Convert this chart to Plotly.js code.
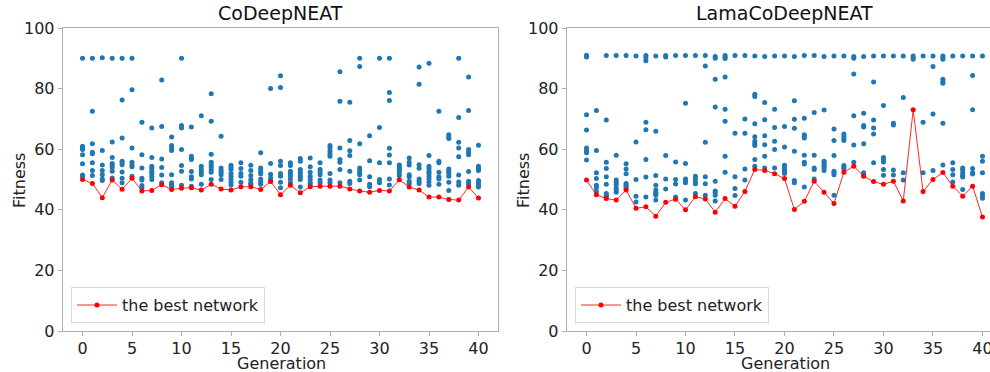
<!DOCTYPE html>
<html>
<head>
<meta charset="utf-8">
<script src="https://cdn.plot.ly/plotly-3.0.1.min.js"></script>
<style>html,body{margin:0;padding:0;background:#fff}#chart{width:990px;height:372px}</style>
</head>
<body>
<div id="chart"></div>
<script>
// ---- data ----
const generations = Array.from({length: 41}, (_, i) => i);

const popLeft = [
  [90, 61, 60.4, 59.9, 58.2, 55.2, 51.5, 51],
  [90, 72.5, 61.8, 59, 58.5, 55.5, 53, 51.3],
  [90.2, 59.6, 54.8, 53, 51.6, 50.2, 49.7],
  [90, 62.4, 57.3, 55.3, 54.6, 54, 52.7, 50.5],
  [90, 76.2, 63.7, 56, 55.5, 54.9, 52.5, 50.4, 48.9],
  [90, 79.6, 60.4, 55.7, 54.9, 54.2, 51.1],
  [68.9, 58.2, 53.8, 50.4, 49.8, 48, 47.3],
  [67, 57.3, 54.4, 53.6, 52.7, 52, 51.1, 50],
  [82.8, 67.5, 56.8, 54, 51.5, 48.9],
  [64, 61.2, 60.4, 59.6, 51.6, 48.9, 48.4, 47.8],
  [90, 67.8, 67, 59.9, 54.6, 52.7, 48.1],
  [67.3, 57.7, 57.1, 56.6, 52.6, 50.9, 50.2, 47.8],
  [71, 54.4, 53.3, 52.4, 51.6, 48.4],
  [78.3, 69.2, 58.3, 55.7, 54.9, 54.2, 53.3, 52.4, 50],
  [64.3, 53.8, 53, 52.4, 51.6, 50],
  [54.7, 54, 53.3, 52, 51.1, 50, 49.1, 48.2],
  [55.5, 53.6, 52, 51.1, 49.1],
  [54.7, 53, 51.3, 50, 48.9, 48.4],
  [58.8, 53.8, 53.3, 52.4, 51.9, 50.2, 49.2, 48.4],
  [80, 55.3, 51.7, 50.5, 49.4],
  [84.2, 80.4, 56, 54.6, 52, 51.1, 49.1, 47.3],
  [55.5, 54.6, 52.7, 52, 51.1, 50.2, 48.9],
  [56.9, 56, 53.3, 52.4, 51.6, 50.9, 50, 47.5],
  [57.1, 54.2, 52.4, 51.1, 50, 48.9, 48.4],
  [55.5, 53.3, 52.5, 51.6, 49.8, 48.9],
  [61.2, 60.4, 59.3, 58.4, 57.7, 52, 49.8, 48.9],
  [85.6, 75.8, 60.4, 56.6, 55.7, 53.3, 48.9],
  [75.5, 62.9, 59.5, 57.9, 52.7, 49.4, 48.7],
  [90, 87.3, 61.8, 53.8, 53, 52.2, 51.6, 49.8],
  [64.4, 56.2, 50.9, 48.4, 47.6],
  [90, 67.2, 55.5, 50, 48.9],
  [90, 78.7, 76.1, 60.3, 58.1, 55.5, 50.2, 48.2],
  [54.8, 54.3, 53.6, 53, 52.2, 51.3],
  [57.1, 55.7, 54.8, 51.6, 50.9, 49.4, 48.7],
  [87.1, 81.4, 54.9, 53.7, 50.2, 49.4, 48.7],
  [88.4, 57.9, 54.4, 53.6, 52.7, 52, 51.1, 50.2, 49.2, 48.1],
  [72.5, 56, 55.5, 52.4, 50.9, 50.2, 48.4],
  [64.8, 64, 63.5, 53.5, 52.7, 52, 51.1, 49.1, 46.4],
  [90, 70.5, 62.3, 60.4, 57.5, 51.5, 49.2, 48.1],
  [83.8, 72.8, 59.9, 59, 58.2, 52.6, 49.4, 48.9, 48.4],
  [61.3, 54.4, 53.6, 53, 49.7, 48.9, 48.1, 47.5]
];
const bestLeft = [50, 48.7, 44, 49.8, 46.8, 50.4, 46.2, 46.4, 48.3, 46.7, 47.1, 47.3, 46.5, 48.4, 46.9, 46.5, 47.6, 47.6, 46.7, 49.3, 45, 48.1, 45.6, 47.6, 47.8, 47.8, 47.8, 46.9, 46.2, 45.8, 46.4, 46.2, 49.9, 47.5, 46.5, 44.2, 44.2, 43.4, 43.2, 47.5, 43.9];

const popRight = [
  [91, 90.4, 71.4, 66.3, 60.4, 59.5, 58.8, 56.4],
  [72.8, 59.6, 52.2, 50.3, 48.1, 47.3, 46],
  [90.9, 69.6, 55.7, 53.6, 50.9, 48.4, 45.4, 44.9, 44.5],
  [90.9, 58, 49.8, 49.2, 48.4, 47.3, 46.5, 45.8],
  [90.9, 55.2, 53.5, 51.9, 48.7, 48.1, 47.6, 47],
  [90.8, 62.4, 50, 44.5, 42.6],
  [90.9, 90.2, 89.2, 68.9, 66.4, 56.6, 50.8, 44.2],
  [90.8, 65.9, 51.3, 48.1, 46.5, 45.8, 45.4, 44.8, 43.2],
  [90.9, 90.4, 57.9, 50.2, 46.9],
  [90.9, 55.8, 50, 48.5, 44.2],
  [90.9, 75.2, 55.3, 50.2, 49.4, 48.9, 43.2],
  [90.9, 51.1, 50.2, 49.1, 48.6, 45.4],
  [90.9, 87.5, 62.3, 50.9, 48.6, 44.8],
  [90.6, 90, 83.1, 73.9, 49.4, 46.2, 45.6, 44.8, 42.9],
  [90.9, 90.4, 89.9, 83.8, 73.2, 69.2, 57.7, 52.4],
  [90.9, 65.3, 50.9, 47, 44.7],
  [90.9, 70, 65.3, 53.5, 49.8],
  [90.8, 78.1, 77.4, 68.4, 64.1, 62.6, 61.8, 61.2, 56.6, 54.4],
  [90.6, 75.4, 69.7, 64.4, 61.5, 57.7, 53.8],
  [90.8, 73.2, 67.2, 62.6, 59.9, 53.8],
  [90.8, 67.5, 60.7, 54.7, 54.2, 53.3, 52.7, 52],
  [90.6, 76, 69.9, 66.9, 59.3, 49.7, 48.9],
  [90.9, 70.2, 64.8, 64.3, 63.7, 58, 55.7, 55.1, 47.5],
  [90.9, 72.1, 58, 53.8, 53.3, 50.2],
  [90.6, 72.9, 56, 55.5, 54.9, 54.4, 53.8, 53],
  [90.8, 66.7, 62.9, 57.9, 52.7, 52.2, 51.6, 44.8],
  [90.8, 65, 64.3, 63.5, 62.9, 54.6, 54, 53.5],
  [90.6, 90, 84.8, 71, 61.4, 55.7],
  [90.6, 71.9, 67.8, 67.3, 61.8, 52.2, 51.6],
  [90.8, 82.2, 69.6, 67, 65, 55.5],
  [90.8, 74.4, 57.3, 56.6, 55.8, 53.3, 51.4],
  [90.8, 68.6, 68, 53.1, 51.5],
  [90.8, 77.1, 52.2, 49.8],
  [90.8, 90.2, 89.7],
  [90.8, 68.9, 52.2],
  [90.8, 87.3, 71.6, 53],
  [90.8, 90.2, 89.7, 83.1, 82.3, 81.8, 68.6, 54.8],
  [90.8, 55.5, 53.3, 51.6, 49.2],
  [90.8, 53.8, 53.3, 52.2, 51.3, 50.8, 46.7],
  [90.8, 84.3, 73, 53.6, 52.2, 51.8],
  [90.8, 57.7, 56, 52.2, 45.4, 44.5, 43.8]
];
const bestRight = [49.8, 45, 43.7, 43.2, 46.5, 40.5, 41, 37.9, 42.5, 43.5, 40, 44.3, 43.6, 39.2, 43.7, 41.2, 46, 53.3, 53, 51.9, 50.3, 40.1, 42.8, 49.4, 45.8, 42.1, 52.4, 54.4, 51.1, 49.3, 48.4, 49.4, 42.9, 73, 46, 50, 52.3, 47.8, 44.5, 47.8, 37.6];

const subplotTitles = ["CoDeepNEAT", "LamaCoDeepNEAT"];
const xTitle = "Generation";
const yTitle = "Fitness";
const legendLabel = "the best network";
const xTickVals = [0, 5, 10, 15, 20, 25, 30, 35, 40];
const yTickVals = [0, 20, 40, 60, 80, 100];

// ---- build ----
function flatten(pop) {
  const xs = [], ys = [];
  pop.forEach((vals, g) => vals.forEach(v => { xs.push(generations[g]); ys.push(v); }));
  return {xs, ys};
}
const fL = flatten(popLeft), fR = flatten(popRight);
const BLUE = '#1f77b4', RED = 'red';
const FONT = 'DejaVu Sans, sans-serif';
const W = 990, H = 372;

const traces = [
  {x: fL.xs, y: fL.ys, type: 'scatter', mode: 'markers', xaxis: 'x', yaxis: 'y',
   marker: {color: BLUE, size: 5, line: {width: 0}}, showlegend: false, hoverinfo: 'skip'},
  {x: generations, y: bestLeft, type: 'scatter', mode: 'lines+markers', xaxis: 'x', yaxis: 'y',
   name: legendLabel, legend: 'legend',
   line: {color: 'rgba(255,0,0,0.85)', width: 1}, marker: {color: RED, size: 5}},
  {x: fR.xs, y: fR.ys, type: 'scatter', mode: 'markers', xaxis: 'x2', yaxis: 'y2',
   marker: {color: BLUE, size: 5, line: {width: 0}}, showlegend: false, hoverinfo: 'skip'},
  {x: generations, y: bestRight, type: 'scatter', mode: 'lines+markers', xaxis: 'x2', yaxis: 'y2',
   name: legendLabel, legend: 'legend2',
   line: {color: 'rgba(255,0,0,0.85)', width: 1}, marker: {color: RED, size: 5}}
];

const spine = '#b0b0b0';
function xAxis(domain, range, anchor) {
  return {domain, range, anchor, tickvals: xTickVals, ticks: 'outside', ticklen: 4, tickcolor: spine,
    showline: true, linecolor: spine, linewidth: 1, mirror: true, showgrid: false, zeroline: false,
    tickfont: {family: FONT, size: 16, color: '#222'}, ticklabeloverflow: 'allow', ticklabelstandoff: -1,
    automargin: false, fixedrange: true};
}
function yAxis(anchor, mirror) {
  return {domain: [0, 1], range: [0, 100], anchor, tickvals: yTickVals, ticks: 'outside', ticklen: 4, tickcolor: spine,
    showline: true, linecolor: spine, linewidth: 1, mirror, showgrid: false, zeroline: false,
    tickfont: {family: FONT, size: 16, color: '#222'},
    automargin: false, fixedrange: true};
}

const dL = [62.7/W, 498.3/W], dR = [566.7/W, 1];
const titleFont = {family: FONT, size: 16, color: '#222'};
function pxAnn(text, px, py, extra) {
  return Object.assign({text, xref: 'paper', yref: 'paper', x: px / W, y: (331 - py) / (331 - 28),
    xanchor: 'center', yanchor: 'middle', showarrow: false, font: titleFont}, extra || {});
}

const layout = {
  width: W, height: H,
  margin: {l: 0, r: 0, t: 28, b: 41},
  paper_bgcolor: '#fff', plot_bgcolor: '#fff',
  font: {family: FONT, color: '#222'},
  xaxis: xAxis(dL, [-2, 42], 'y'),
  yaxis: yAxis('x', true),
  xaxis2: xAxis(dR, [-2, 40.76], 'y2'),
  yaxis2: yAxis('x2', false),
  legend: {x: 71/W, y: 0.026, xanchor: 'left', yanchor: 'bottom', bgcolor: '#fff', itemwidth: 40,
    bordercolor: '#d9d9d9', borderwidth: 1, font: {family: FONT, size: 16, color: '#222'}},
  legend2: {x: 575/W, y: 0.026, xanchor: 'left', yanchor: 'bottom', bgcolor: '#fff', itemwidth: 40,
    bordercolor: '#d9d9d9', borderwidth: 1, font: {family: FONT, size: 16, color: '#222'}},
  annotations: [
    {text: subplotTitles[0], xref: 'paper', yref: 'paper', x: (dL[0]+dL[1])/2, y: 1, yshift: 2,
     xanchor: 'center', yanchor: 'bottom', showarrow: false, font: {family: FONT, size: 19, color: '#111'}},
    {text: subplotTitles[1], xref: 'paper', yref: 'paper', x: (566.7 + 1001.6) / 2 / W, y: 1, yshift: 2,
     xanchor: 'center', yanchor: 'bottom', showarrow: false, font: {family: FONT, size: 19, color: '#111'}},
    pxAnn(xTitle, 281, 363),
    pxAnn(xTitle, 785, 363),
    pxAnn(yTitle, 19, 181, {textangle: -90}),
    pxAnn(yTitle, 523, 181, {textangle: -90})
  ]
};

Plotly.newPlot('chart', traces, layout, {staticPlot: true, displayModeBar: false});
</script>
</body>
</html>
